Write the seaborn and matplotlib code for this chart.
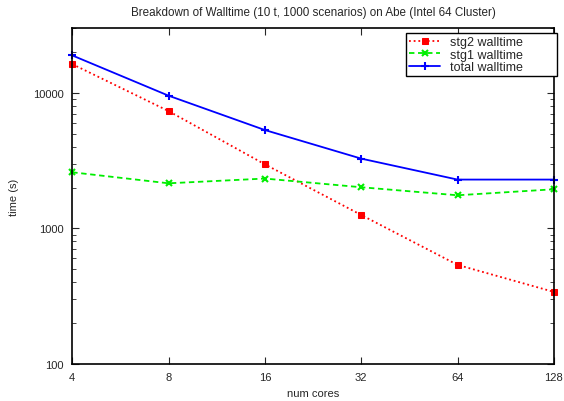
import matplotlib
matplotlib.use("Agg")
import matplotlib.pyplot as plt
import matplotlib.ticker as mticker
import seaborn as sns
import pandas as pd

# data
cores = [4, 8, 16, 32, 64, 128]
stg2_walltime = [16240, 7320, 2965, 1255, 538, 340]
stg1_walltime = [2590, 2148, 2328, 2009, 1753, 1941]
total_walltime = [18830, 9505, 5305, 3266, 2288, 2288]

sns.set_style("ticks")
plt.rcParams['font.family'] = ['Liberation Sans', 'DejaVu Sans']

df = pd.DataFrame({
    'cores': cores * 3,
    'time': stg2_walltime + stg1_walltime + total_walltime,
    'series': ['stg2 walltime'] * 6 + ['stg1 walltime'] * 6 + ['total walltime'] * 6,
})

fig = plt.figure(figsize=(5.64, 4.02), dpi=100)
ax = fig.add_axes([0.128, 0.092, 0.854, 0.836])

styles = {
    'stg2 walltime': dict(color='#ff0000', linestyle=(0, (1, 1.6)), marker='s', markersize=4,
                          markeredgecolor='#ff0000'),
    'stg1 walltime': dict(color='#00ee00', linestyle=(0, (3, 2)), marker='x', markersize=5,
                          mew=1.5, markeredgecolor='#00ee00'),
    'total walltime': dict(color='#0000ff', linestyle='-', marker='+', markersize=6,
                           mew=1.5, markeredgecolor='#0000ff'),
}
for name, st in styles.items():
    sub = df[df['series'] == name]
    sns.lineplot(data=sub, x='cores', y='time', ax=ax, linewidth=1.3,
                 clip_on=False, legend=False, **st)

ax.set_xscale('log', base=2)
ax.set_yscale('log')
ax.set_xlim(4, 128)
ax.set_ylim(100, 30000)
ax.set_xticks(cores)
ax.xaxis.set_major_formatter(mticker.FixedFormatter([str(c) for c in cores]))
ax.xaxis.set_minor_locator(mticker.NullLocator())
ax.set_yticks([100, 1000, 10000])
ax.set_yticklabels(['100', '1000', '10000'])
ax.yaxis.set_minor_locator(mticker.LogLocator(base=10, subs=range(2, 10)))
ax.yaxis.set_minor_formatter(mticker.NullFormatter())

ax.tick_params(which='both', direction='in', top=True, right=True, labelsize=8, pad=6)
ax.tick_params(which='major', length=5)
ax.tick_params(which='minor', length=3)
for s in ax.spines.values():
    s.set_linewidth(1.2)
    s.set_color('black')

ax.set_xlabel('num cores', fontsize=8, labelpad=4)
ax.set_ylabel('time (s)', fontsize=8, labelpad=10)
ax.set_title('Breakdown of Walltime (10 t, 1000 scenarios) on Abe (Intel 64 Cluster)',
             fontsize=8.4, pad=9)

leg = ax.legend(handles=ax.get_lines(), labels=list(styles.keys()),
                loc='upper left', mode='expand', fontsize=9, frameon=True, fancybox=False,
                edgecolor='black', framealpha=1, borderpad=0.25, labelspacing=0.05,
                handlelength=2.5, handletextpad=0.8, borderaxespad=0,
                bbox_to_anchor=(0.693, 0.884, 0.314, 0.101))
leg.get_frame().set_linewidth(1.0)

fig.savefig('out.png', dpi=100)
